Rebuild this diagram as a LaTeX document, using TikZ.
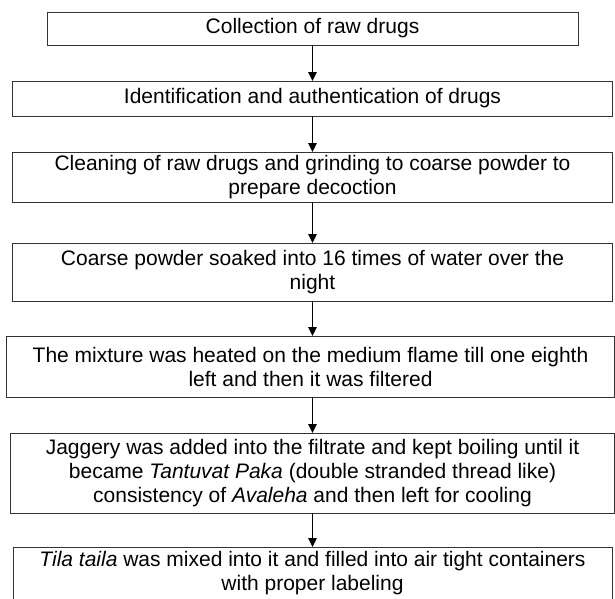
\documentclass[tikz,border=0pt]{standalone}
\usepackage{fontspec}
\setmainfont{Liberation Sans}
\usetikzlibrary{arrows.meta,positioning}

\begin{document}
\begin{tikzpicture}[
  x=1pt, y=1pt,
  node distance=36pt,
  stepbox/.style={draw=black!80, line width=1pt, inner sep=0pt, outer sep=0pt,
    align=center, font=\fontsize{21}{24}\selectfont, minimum width=#1},
  arrow/.style={-{Triangle[length=9pt, width=8.5pt]}, line width=1pt, draw=black}
]
  \useasboundingbox (0,0) rectangle (615,-598);

  \node[stepbox=531pt, minimum height=33pt, anchor=north] (s1) at (312.5,-12)
    {Collection of raw drugs};
  \node[stepbox=600pt, minimum height=35pt, below=36pt of s1] (s2)
    {Identification and authentication of drugs};
  \node[stepbox=600pt, minimum height=50pt, below=36pt of s2] (s3)
    {Cleaning of raw drugs and grinding to coarse powder to\\prepare decoction};
  \node[stepbox=600pt, minimum height=58pt, below=41pt of s3] (s4)
    {Coarse powder soaked into 16 times of water over the\\night};
  \node[stepbox=608pt, minimum height=61pt, below=35pt of s4, xshift=-2pt] (s5)
    {The mixture was heated on the medium flame till one eighth\\left and then it was filtered};
  \node[stepbox=604pt, minimum height=80pt, below=36pt of s5, xshift=2pt] (s6)
    {Jaggery was added into the filtrate and kept boiling until it\\
     became \textit{Tantuvat Paka} (double stranded thread like)\\
     consistency of \textit{Avaleha} and then left for cooling};
  \node[stepbox=599pt, minimum height=52pt, below=34pt of s6] (s7)
    {\textit{Tila taila} was mixed into it and filled into air tight containers\\with proper labeling};

  \draw[arrow] (s1) -- (s2);
  \draw[arrow] (s2) -- (s3);
  \draw[arrow] (s3) -- (s4);
  \draw[arrow] (s4.south) -- (s4.south |- s5.north);
  \draw[arrow] (s5.south -| s4.south) -- (s4.south |- s6.north);
  \draw[arrow] (s6) -- (s7);

\end{tikzpicture}
\end{document}
